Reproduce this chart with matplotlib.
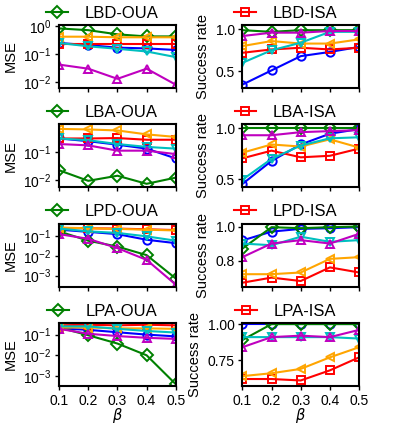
import matplotlib
matplotlib.use('Agg')
import matplotlib.pyplot as plt
from matplotlib.ticker import NullLocator, FixedLocator

plt.rcParams['font.family'] = ['Liberation Sans', 'DejaVu Sans']

beta = [0.1, 0.2, 0.3, 0.4, 0.5]

# series styles: green D, blue o, red s, orange <, cyan v, magenta ^
styles = [('green', 'D'), ('blue', 'o'), ('red', 's'),
          ('orange', '<'), ('c', 'v'), ('m', '^')]

# MSE panels (left column), order: green, blue, red, orange, cyan, magenta
lbd_oua = [
    [0.83, 0.72, 0.51, 0.43, 0.43],
    [0.25, 0.21, 0.17, 0.16, 0.14],
    [0.23, 0.23, 0.23, 0.23, 0.23],
    [0.42, 0.42, 0.40, 0.40, 0.40],
    [0.25, 0.19, 0.155, 0.124, 0.078],
    [0.042, 0.030, 0.013, 0.030, 0.008],
]
lba_oua = [
    [0.022, 0.0092, 0.014, 0.0072, 0.012],
    [0.30, 0.24, 0.18, 0.13, 0.058],
    [0.30, 0.30, 0.31, 0.27, 0.27],
    [0.66, 0.63, 0.58, 0.42, 0.34],
    [0.30, 0.26, 0.19, 0.15, 0.13],
    [0.19, 0.17, 0.11, 0.11, 0.083],
]
lpd_oua = [
    [0.18, 0.06, 0.03, 0.011, 0.0007],
    [0.22, 0.17, 0.13, 0.067, 0.045],
    [0.27, 0.26, 0.25, 0.23, 0.21],
    [0.28, 0.26, 0.24, 0.22, 0.20],
    [0.25, 0.18, 0.15, 0.10, 0.06],
    [0.13, 0.075, 0.025, 0.0063, 0.00034],
]
lpa_oua = [
    [0.22, 0.093, 0.037, 0.010, 0.0004],
    [0.20, 0.17, 0.13, 0.10, 0.082],
    [0.28, 0.30, 0.28, 0.30, 0.28],
    [0.22, 0.22, 0.20, 0.20, 0.19],
    [0.25, 0.25, 0.19, 0.15, 0.126],
    [0.19, 0.11, 0.085, 0.07, 0.062],
]

# success-rate panels (right column)
lbd_isa = [
    [0.99, 0.97, 0.99, 0.99, 0.99],
    [0.34, 0.51, 0.68, 0.73, 0.79],
    [0.72, 0.76, 0.78, 0.76, 0.78],
    [0.80, 0.86, 0.83, 0.83, 0.88],
    [0.60, 0.75, 0.84, 0.97, 0.97],
    [0.92, 0.96, 0.96, 0.98, 0.98],
]
lba_isa = [
    [1.0, 1.0, 1.0, 1.0, 1.0],
    [0.455, 0.68, 0.84, 0.945, 0.99],
    [0.705, 0.78, 0.715, 0.73, 0.80],
    [0.76, 0.84, 0.82, 0.89, 0.81],
    [0.497, 0.70, 0.83, 0.90, 0.91],
    [0.93, 0.93, 0.96, 0.97, 0.98],
]
lpd_isa = [
    [0.87, 0.996, 0.99, 0.996, 1.0],
    [0.918, 0.97, 0.986, 0.99, 0.996],
    [0.67, 0.70, 0.68, 0.76, 0.73],
    [0.72, 0.72, 0.73, 0.81, 0.82],
    [0.90, 0.89, 0.94, 0.91, 0.92],
    [0.82, 0.90, 0.92, 0.90, 0.957],
]
lpa_isa = [
    [0.89, 1.0, 1.0, 1.0, 1.0],
    [1.0, 1.0, 1.0, 1.0, 1.0],
    [0.62, 0.62, 0.61, 0.68, 0.77],
    [0.64, 0.66, 0.69, 0.77, 0.84],
    [0.91, 0.91, 0.91, 0.91, 0.90],
    [0.84, 0.91, 0.92, 0.91, 0.96],
]

left_titles = ['LBD-OUA', 'LBA-OUA', 'LPD-OUA', 'LPA-OUA']
right_titles = ['LBD-ISA', 'LBA-ISA', 'LPD-ISA', 'LPA-ISA']
left_data = [lbd_oua, lba_oua, lpd_oua, lpa_oua]
right_data = [lbd_isa, lba_isa, lpd_isa, lpa_isa]
left_ylims = [(6.1e-3, 1.09), (5.4e-3, 0.95), (2.7e-4, 0.44), (3.3e-4, 0.36)]
right_ylims = [(0.3, 1.05), (0.423, 1.035), (0.647, 1.016), (0.572, 1.007)]
right_ticks = [[0.5, 1.0], [0.5, 1.0], [0.8, 1.0], [0.75, 1.0]]

# draw order: blue first so green sits on top
order = [1, 0, 2, 3, 4, 5]

fig, axes = plt.subplots(4, 2, sharex=True, figsize=(3.99, 4.26), dpi=100)
plt.subplots_adjust(left=0.148, right=0.9, top=0.941, bottom=0.094,
                    wspace=0.57, hspace=0.58)

def draw(ax, data, title, leg_idx):
    handles = {}
    for i in order:
        c, m = styles[i]
        ln, = ax.plot(beta, data[i], color=c, marker=m, markersize=6,
                      markerfacecolor='none', markeredgewidth=1.4, lw=1.5)
        handles[i] = ln
    ax.legend([handles[leg_idx]], [title], loc='center',
              bbox_to_anchor=(0.37, 1.19), frameon=False, fontsize=12,
              handlelength=1.3, handletextpad=1.0, borderpad=0.0)
    for s in ax.spines.values():
        s.set_linewidth(1.5)
    ax.tick_params(labelsize=10, length=3, width=1, pad=2.5)

for r in range(4):
    axl = axes[r, 0]
    draw(axl, left_data[r], left_titles[r], 0)
    axl.set_yscale('log')
    axl.set_ylim(*left_ylims[r])
    axl.yaxis.set_minor_locator(NullLocator())
    axl.set_ylabel('MSE', fontsize=10.5)

    axr = axes[r, 1]
    draw(axr, right_data[r], right_titles[r], 2)
    axr.set_ylim(*right_ylims[r])
    axr.yaxis.set_major_locator(FixedLocator(right_ticks[r]))
    axr.set_ylabel('Success rate', fontsize=10.5)

for ax in axes[3]:
    ax.set_xlim(0.1, 0.5)
    ax.set_xticks(beta)
    ax.set_xlabel(r'$\beta$', fontsize=10.5, labelpad=-1)

fig.savefig('out.png', dpi=100)
